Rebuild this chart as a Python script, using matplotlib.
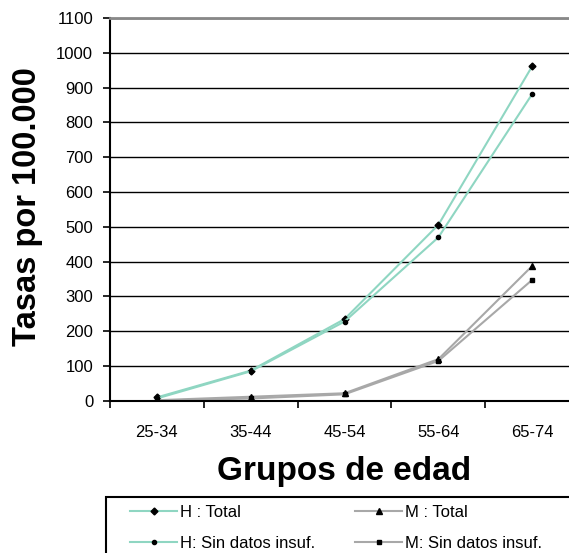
import numpy as np
import matplotlib.pyplot as plt
from matplotlib.patches import Rectangle

plt.rcParams['font.family'] = ['Liberation Sans', 'DejaVu Sans']

grupos = ['25-34', '35-44', '45-54', '55-64', '65-74']
h_total = [10, 87, 235, 506, 962]
h_sin = [7, 85, 228, 470, 882]
m_total = [2, 12, 22, 120, 388]
m_sin = [1, 7, 19, 115, 348]

verde = '#8fd6c2'
gris = '#a8a8a8'

fig = plt.figure(figsize=(5.69, 5.53), dpi=100)
ax = fig.add_axes([0.193, 0.275, 0.825, 0.6925])

x = np.arange(len(grupos))
ax.plot(x, h_total, color=verde, lw=1.5, marker='D', ms=3.5, mfc='black', mec='black', label='H : Total')
ax.plot(x, m_total, color=gris, lw=1.5, marker='^', ms=5, mfc='black', mec='black', label='M : Total')
ax.plot(x, h_sin, color=verde, lw=1.5, marker='o', ms=3, mfc='black', mec='black', label='H: Sin datos insuf.')
ax.plot(x, m_sin, color=gris, lw=1.5, marker='s', ms=2.5, mfc='black', mec='black', label='M: Sin datos insuf.')

ax.set_xlim(-0.5, 4.5)
ax.set_ylim(0, 1100)
ax.set_yticks(np.arange(0, 1101, 100))
ax.set_xticks(x)
ax.set_xticklabels(grupos)
ax.set_xticks(np.arange(-0.5, 5, 1), minor=True)
ax.tick_params(axis='x', which='major', length=0, pad=17, labelsize=12)
ax.tick_params(axis='x', which='minor', length=5, width=1.2, direction='out')
ax.tick_params(axis='y', length=5, width=1.2, direction='out', labelsize=12, pad=7)
ax.grid(axis='y', color='black', lw=1)
ax.set_axisbelow(True)
ax.spines['right'].set_visible(False)
ax.spines['top'].set_color('#888888')
ax.spines['top'].set_linewidth(2)
ax.spines['left'].set_linewidth(1.5)
ax.spines['bottom'].set_linewidth(1.5)

ax.set_ylabel('Tasas por 100.000', fontsize=23.5, fontweight='bold')
ax.yaxis.set_label_coords(-0.176, 0.508)
ax.yaxis.label.set_verticalalignment('center')
ax.set_xlabel('Grupos de edad', fontsize=24, fontweight='bold')
ax.xaxis.set_label_coords(0.5, -0.183)
ax.xaxis.label.set_verticalalignment('center')

# legend box running off the right and bottom edges
fig.patches.append(Rectangle((0.1863, -0.05), 1.0, 0.1513, transform=fig.transFigure,
                             fill=False, edgecolor='black', lw=1.5))

h, l = ax.get_legend_handles_labels()
order = [0, 2, 1, 3]
leg = fig.legend([h[i] for i in order], [l[i] for i in order], ncol=2,
                 loc='upper left', bbox_to_anchor=(130 / 569, 0.087),
                 fontsize=12, frameon=False,
                 handlelength=2.82, handletextpad=0.18, borderpad=0, labelspacing=0.95,
                 columnspacing=2.4, borderaxespad=0)

fig.savefig('out.png', dpi=100)
